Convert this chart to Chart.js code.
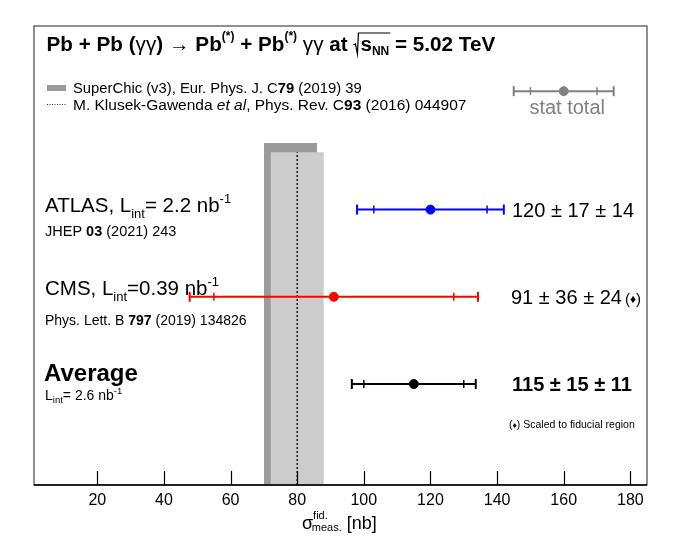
<!DOCTYPE html>
<html><head><meta charset="utf-8">
<script src="https://cdn.jsdelivr.net/npm/chart.js@4.4.1/dist/chart.umd.min.js"></script>
<style>html,body{margin:0;padding:0;background:#fff;}canvas{display:block;}</style>
</head><body>
<div style="width:681px;height:539px;"><canvas id="c" width="681" height="539"></canvas></div>
<script>
// ---------------- data ----------------
const experiments = ['ATLAS', 'CMS', 'Average'];
const centralValues = [120, 91, 115];
const statErrors = [17, 36, 15];
const systErrors = [14, 24, 11];
const superChicBand = [70, 86];
const superChicShade = [72, 88];
const klusekGawenda = 80;
const keyCentral = 160;
const keyStat = 10;
const keyTotal = 15;
const xTickValues = [20, 40, 60, 80, 100, 120, 140, 160, 180];
const xRange = [1, 185];

// ---------------- layout / style ----------------
const rowPos = [6.0, 4.1, 2.2];
const rowColors = ['#0000ff', '#ff0000', '#000000'];
const bandTop = 7.45, shadeTop = 7.25, keyRow = 8.58;
const FONT = '"Liberation Sans", Arial, Helvetica, sans-serif';

const totalErrors = statErrors.map((s, i) => Math.sqrt(s * s + systErrors[i] * systErrors[i]));

function errorBar(c, s, t, y, color, order) {
  return [
    {data: [{x: c - t, y}, {x: c + t, y}], showLine: true, borderColor: color, borderWidth: 2, pointRadius: 0, order},
    {data: [{x: c - t, y}, {x: c + t, y}], showLine: false, pointStyle: 'line', rotation: 90, pointRadius: 5, borderColor: color, pointBorderWidth: 2, order},
    {data: [{x: c - s, y}, {x: c + s, y}], showLine: false, pointStyle: 'line', rotation: 90, pointRadius: 4, borderColor: color, pointBorderWidth: 1.5, order},
    {data: [{x: c, y}], showLine: false, pointStyle: 'circle', pointRadius: 4.5, backgroundColor: color, borderColor: color, pointBorderWidth: 1, order}
  ];
}
function band(lo, hi, top, color, order) {
  return {data: [{x: lo, y: 0}, {x: lo, y: top}, {x: hi, y: top}, {x: hi, y: 0}], showLine: true, fill: 'origin',
    backgroundColor: color, borderColor: 'rgba(0,0,0,0)', borderWidth: 1, pointRadius: 0, order};
}

const datasets = [
  band(superChicBand[0], superChicBand[1], bandTop, '#9b9b9b', 20),
  band(superChicShade[0], superChicShade[1], shadeTop, '#cccccc', 19),
  {data: [{x: klusekGawenda, y: 0}, {x: klusekGawenda, y: shadeTop}], showLine: true, borderColor: '#000', borderWidth: 1.3, borderDash: [2, 2], pointRadius: 0, order: 18}
];
experiments.forEach((e, i) => datasets.push(...errorBar(centralValues[i], statErrors[i], totalErrors[i], rowPos[i], rowColors[i], 5)));
datasets.push(...errorBar(keyCentral, keyStat, keyTotal, keyRow, '#808080', 5));

function rich(ctx, x, y, runs, color) {
  for (const r of runs) {
    ctx.font = (r.italic ? 'italic ' : '') + (r.bold ? 'bold ' : '') + r.size + 'px ' + FONT;
    ctx.fillStyle = r.color || color || '#000';
    ctx.fillText(r.t, x, y + (r.dy || 0));
    x += ctx.measureText(r.t).width + (r.dx || 0);
  }
  return x;
}

const decor = {
  id: 'decor',
  afterDraw(chart) {
    const ctx = chart.ctx, a = chart.chartArea, xs = chart.scales.x;
    ctx.save();
    ctx.textAlign = 'left'; ctx.textBaseline = 'alphabetic';
    // frame
    ctx.strokeStyle = '#555'; ctx.lineWidth = 1.3;
    ctx.strokeRect(a.left, a.top, a.right - a.left, a.bottom - a.top);
    ctx.strokeStyle = '#000';
    ctx.beginPath(); ctx.moveTo(a.left, a.bottom); ctx.lineTo(a.right, a.bottom); ctx.stroke();
    // ticks (inside)
    ctx.lineWidth = 1.2;
    xTickValues.forEach(v => {
      const px = Math.round(xs.getPixelForValue(v)) + 0.5;
      ctx.beginPath(); ctx.moveTo(px, a.bottom); ctx.lineTo(px, a.bottom - 14); ctx.stroke();
    });
    // axis title
    rich(ctx, 302, 529, [
      {t: 'σ', size: 18},
      {t: 'fid.', size: 11, dy: -10, dx: -16},
      {t: 'meas.', size: 11, dy: 2, dx: 5},
      {t: '[nb]', size: 18}
    ]);
    // title
    const TS = 20.7, SS = 12;
    let x = rich(ctx, 46.5, 51, [
      {t: 'Pb + Pb (', size: TS, bold: true},
      {t: 'γγ', size: TS},
      {t: ') ', size: TS, bold: true},
      {t: '→', size: TS},
      {t: ' Pb', size: TS, bold: true},
      {t: '(*)', size: SS, bold: true, dy: -11},
      {t: ' + Pb', size: TS, bold: true},
      {t: '(*)', size: SS, bold: true, dy: -11},
      {t: ' ', size: TS, bold: true},
      {t: 'γγ', size: TS},
      {t: ' at ', size: TS, bold: true}
    ]);
    // sqrt sign
    const sx = x;
    x = rich(ctx, sx + 7, 51, [
      {t: 's', size: TS, bold: true},
      {t: 'NN', size: SS, bold: true, dy: 4}
    ]);
    ctx.strokeStyle = '#000'; ctx.lineWidth = 1.2;
    ctx.beginPath();
    ctx.moveTo(sx, 45); ctx.lineTo(sx + 2, 44); ctx.lineTo(sx + 4, 54); ctx.lineTo(sx + 5, 33); ctx.lineTo(x + 1, 33);
    ctx.stroke();
    rich(ctx, x, 51, [{t: ' = 5.02 TeV', size: TS, bold: true}]);
    // legend
    ctx.fillStyle = '#9b9b9b'; ctx.fillRect(47, 85, 19, 6);
    ctx.strokeStyle = '#333'; ctx.lineWidth = 1; ctx.setLineDash([1, 1.5]);
    ctx.beginPath(); ctx.moveTo(47, 104.5); ctx.lineTo(66, 104.5); ctx.stroke();
    ctx.setLineDash([]);
    const LS1 = 14.8, LS2 = 15.5;
    rich(ctx, 73, 93, [
      {t: 'SuperChic (v3), Eur. Phys. J. C', size: LS1},
      {t: '79', size: LS1, bold: true, dx: 0},
      {t: ' (2019) 39', size: LS1}
    ]);
    rich(ctx, 73, 110, [
      {t: 'M. Klusek-Gawenda ', size: LS2},
      {t: 'et al', size: LS2, italic: true},
      {t: ', Phys. Rev. C', size: LS2},
      {t: '93', size: LS2, bold: true},
      {t: ' (2016) 044907', size: LS2}
    ]);
    rich(ctx, xs.getPixelForValue(150) - 1, 114, [{t: 'stat total', size: 20, color: '#808080'}]);
    // experiment labels
    rich(ctx, 45, 212, [
      {t: 'ATLAS, L', size: 20.5}, {t: 'int', size: 13, dy: 6}, {t: '= 2.2 nb', size: 20.5}, {t: '-1', size: 13, dy: -9}
    ]);
    rich(ctx, 45, 236, [{t: 'JHEP ', size: 14.5}, {t: '03', size: 14.5, bold: true}, {t: ' (2021) 243', size: 14.5}]);
    rich(ctx, 45, 295, [
      {t: 'CMS, L', size: 20.5}, {t: 'int', size: 13, dy: 6}, {t: '=0.39 nb', size: 20.5}, {t: '-1', size: 13, dy: -9}
    ]);
    rich(ctx, 45, 325, [{t: 'Phys. Lett. B ', size: 14}, {t: '797', size: 14, bold: true}, {t: ' (2019) 134826', size: 14}]);
    rich(ctx, 44, 381, [{t: 'Average', size: 24, bold: true}]);
    rich(ctx, 45, 400, [
      {t: 'L', size: 14}, {t: 'int', size: 9.5, dy: 3}, {t: '= 2.6 nb', size: 14}, {t: '-1', size: 9.5, dy: -6}
    ]);
    // values
    const pm = (i) => centralValues[i] + ' ± ' + statErrors[i] + ' ± ' + systErrors[i];
    rich(ctx, 512, 217, [{t: pm(0), size: 20}]);
    let vx = rich(ctx, 511, 304, [{t: pm(1), size: 20}]);
    rich(ctx, vx + 3, 304, [{t: '(', size: 15}, {t: '♦', size: 12, dy: -1}, {t: ')', size: 15}]);
    rich(ctx, 512, 391, [{t: pm(2), size: 20, bold: true}]);
    rich(ctx, 509, 428, [{t: '(', size: 10.5}, {t: '♦', size: 8.5}, {t: ') Scaled to fiducial region', size: 10.5}]);
    ctx.restore();
  }
};

new Chart(document.getElementById('c'), {
  type: 'scatter',
  data: {datasets},
  options: {
    responsive: false, animation: false, devicePixelRatio: 1,
    layout: {padding: {left: 34, right: 34, top: 26, bottom: 0}},
    plugins: {legend: {display: false}, tooltip: {enabled: false}},
    scales: {
      x: {
        type: 'linear', min: xRange[0], max: xRange[1],
        afterBuildTicks: (s) => { s.ticks = xTickValues.map(v => ({value: v})); },
        afterFit: (s) => { s.height = 54; },
        grid: {display: false, drawTicks: false},
        border: {display: false},
        ticks: {color: '#000', padding: 6, font: {family: FONT, size: 16}, maxRotation: 0, autoSkip: false}
      },
      y: {type: 'linear', min: 0, max: 10, display: false}
    }
  },
  plugins: [decor]
});
</script>
</body></html>
